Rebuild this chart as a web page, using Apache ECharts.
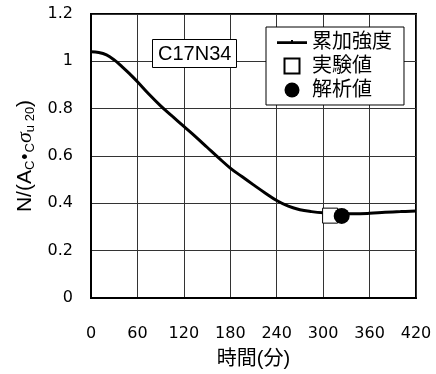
<!DOCTYPE html>
<html><head><meta charset="utf-8">
<script src="https://cdn.jsdelivr.net/npm/echarts@6/dist/echarts.min.js"></script>
<style>html,body{margin:0;padding:0;background:#fff}#c{width:436px;height:374px}</style>
</head><body><div id="c"></div>
<script>
const timeMin = [0,10,20,30,40,50,60,75,90,105,120,135,150,165,180,195,210,225,240,255,270,285,300,320,340,360,380,400,420];
const strength = [1.04,1.037,1.027,1.006,0.978,0.947,0.914,0.861,0.812,0.768,0.725,0.682,0.637,0.592,0.549,0.513,0.478,0.444,0.412,0.388,0.373,0.365,0.36,0.357,0.356,0.358,0.362,0.365,0.368];
const experiment = [[309, 0.348]];
const analysis = [[324, 0.347]];
const seriesNames = ['累加強度','実験値','解析値'];
const specimen = 'C17N34';
const xTicks = {min:0, max:420, interval:60};
const yTicks = {min:0, max:1.2, interval:0.2};

const chart = echarts.init(document.getElementById('c'), null, {renderer:'canvas'});
const lineData = timeMin.map((t,i)=>[t, strength[i]]);
const CJK = '"Liberation Sans","Noto Sans CJK JP",sans-serif';
chart.setOption({
  animation:false,
  backgroundColor:'#fff',
  title:{
    text:specimen, left:152, top:39,
    padding:[5,5,4,6],
    borderColor:'#000', borderWidth:1, backgroundColor:'#fff',
    textStyle:{fontSize:20, fontWeight:'normal', color:'#000', fontFamily:'"Liberation Sans",sans-serif'},
    z:10
  },
  legend:{
    orient:'vertical', left:266, top:27,
    padding:[5,12,5,11], itemGap:4, itemWidth:30, itemHeight:15,
    borderColor:'#000', borderWidth:1, backgroundColor:'#fff',
    textStyle:{fontSize:20, color:'#000', fontFamily:CJK},
    data:[
      {name:seriesNames[0], icon:'path://M0,0L14,0L14,-1.2L16,-1.2L16,0L30,0L30,2.6L0,2.6Z', itemStyle:{color:'#000', borderWidth:0}},
      {name:seriesNames[1], icon:'path://M0,0L13,0L13,13L0,13Z'},
      {name:seriesNames[2], icon:'circle'}
    ]
  },
  grid:{left:91, right:20, top:14, bottom:75, show:true, borderColor:'#000', borderWidth:2, backgroundColor:'#fff'},
  xAxis:{
    type:'value', min:xTicks.min, max:xTicks.max, interval:xTicks.interval,
    name:'時間(分)', nameLocation:'middle', nameGap:51,
    nameTextStyle:{fontSize:20, color:'#000', fontFamily:CJK},
    axisLine:{show:true, lineStyle:{color:'#000', width:2}},
    axisTick:{show:false},
    axisLabel:{margin:28, fontSize:16, color:'#000', fontFamily:'"DejaVu Sans",sans-serif'},
    splitLine:{show:true, lineStyle:{color:'#333', width:1}}
  },
  yAxis:{
    type:'value', min:yTicks.min, max:yTicks.max, interval:yTicks.interval,
    name:'N/(A{s|C}{d|•}{s|C}{i|σ}{s|u 20})', nameLocation:'middle', nameGap:46,
    nameTextStyle:{fontSize:21, color:'#000', fontFamily:'"Liberation Sans",sans-serif',
      rich:{
        s:{fontSize:13, color:'#000', fontFamily:'"Liberation Sans",sans-serif', verticalAlign:'bottom', lineHeight:22},
        d:{fontSize:18, color:'#000', fontFamily:'"Liberation Sans",sans-serif', padding:[0,1,0,1]},
        i:{fontSize:22, color:'#000', fontStyle:'italic', fontFamily:'"Liberation Serif",serif'}
      }},
    axisLine:{show:true, lineStyle:{color:'#000', width:2}},
    axisTick:{show:false},
    axisLabel:{margin:18, fontSize:16, color:'#000', fontFamily:'"DejaVu Sans",sans-serif'},
    splitLine:{show:true, lineStyle:{color:'#333', width:1}}
  },
  series:[
    {name:seriesNames[0], type:'line', data:lineData, smooth:0.4, symbol:'none',
     lineStyle:{color:'#000', width:3}, itemStyle:{color:'#000'}, z:3},
    {name:seriesNames[1], type:'scatter', data:experiment, symbol:'rect', symbolSize:15,
     itemStyle:{color:'#fff', borderColor:'#000', borderWidth:1, opacity:1}, z:4},
    {name:seriesNames[2], type:'scatter', data:analysis, symbol:'circle', symbolSize:16,
     itemStyle:{color:'#000', opacity:1}, z:5}
  ]
});
</script></body></html>
